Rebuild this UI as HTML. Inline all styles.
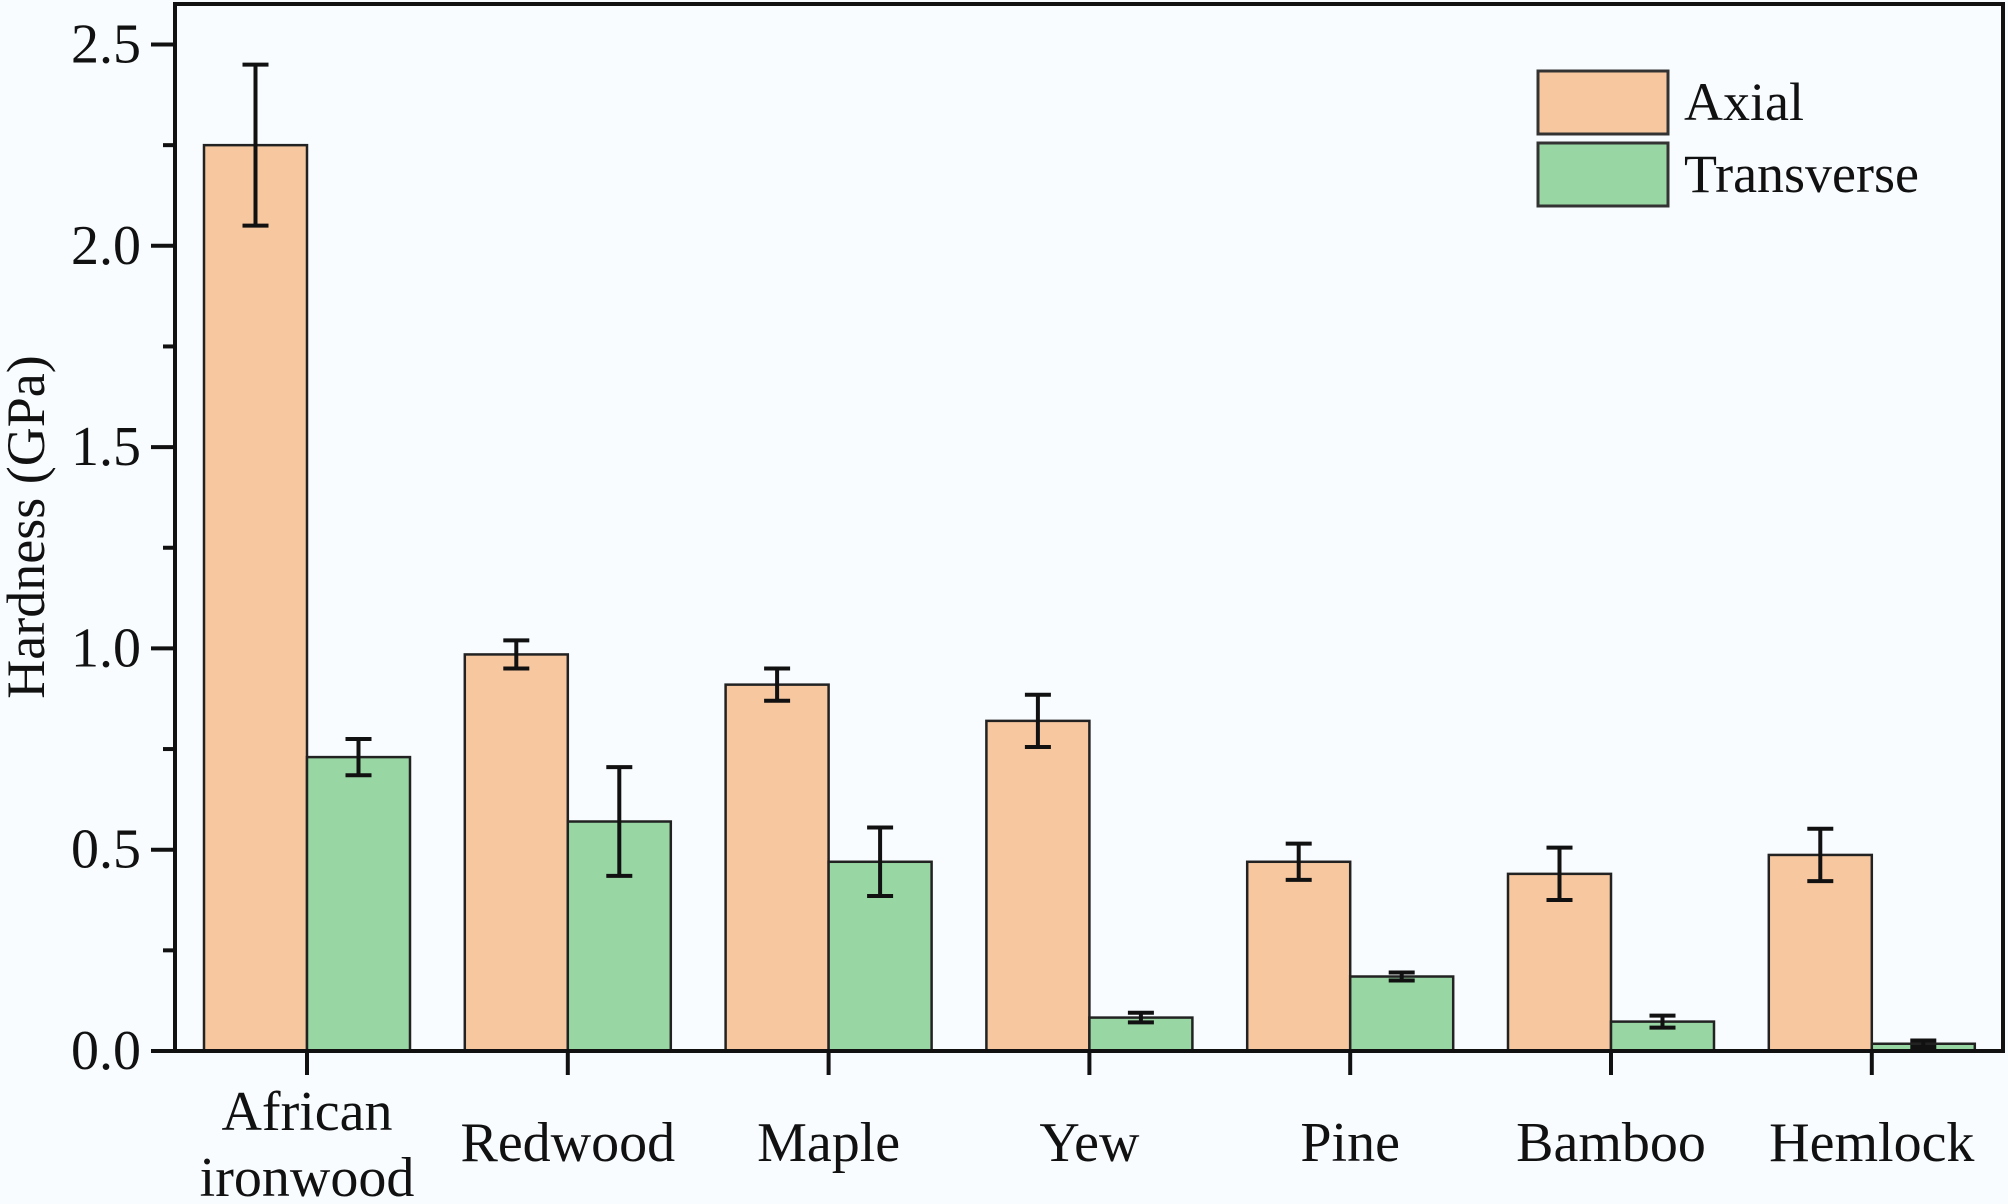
<!DOCTYPE html>
<html><head><meta charset="utf-8"><style>
html,body{margin:0;padding:0;background:#f8fcff;}
svg{display:block;}
text{font-family:"Liberation Serif","Times New Roman",serif;}
</style></head><body>
<svg width="2008" height="1204" viewBox="0 0 2008 1204" font-family="Liberation Serif, serif">
<rect x="0" y="0" width="2008" height="1204" fill="#f8fcff"/>
<g id="marks"></g>
<g id="axes"></g>
</svg>
<script>
const categories=["African|ironwood","Redwood","Maple","Yew","Pine","Bamboo","Hemlock"];
const axialValues=[2.25,0.985,0.91,0.82,0.47,0.44,0.487];
const axialErrors=[0.2,0.035,0.04,0.065,0.045,0.065,0.065];
const transValues=[0.73,0.57,0.47,0.083,0.185,0.073,0.018];
const transErrors=[0.045,0.135,0.085,0.012,0.01,0.015,0.008];
const yTicks=["0.0","0.5","1.0","1.5","2.0","2.5"];

const NS="http://www.w3.org/2000/svg";
const FONT='"Liberation Serif", serif';
const L=175,R=2003,T=4,B=1051;
const y0=1051,yPer=402.6;
function ys(v){return y0-v*yPer;}
function xc(i){return 307+i*260.8;}
const BW=103;
function mk(tag,attrs,parent){const e=document.createElementNS(NS,tag);for(const k in attrs)e.setAttribute(k,attrs[k]);if(tag==='text')e.setAttribute('font-family',FONT);parent.appendChild(e);return e;}
const marks=document.getElementById('marks'),axes=document.getElementById('axes');

categories.forEach((c,i)=>{
  const cx=xc(i);
  const ya=ys(axialValues[i]);
  const a=mk('rect',{x:cx-BW,y:ya,width:BW,height:y0-ya,fill:'#f7c8a0',stroke:'#222',"stroke-width":2.5},marks);
  
  
  const yt=ys(transValues[i]);
  const t=mk('rect',{x:cx,y:yt,width:BW,height:y0-yt,fill:'#98d7a4',stroke:'#222',"stroke-width":2.5},marks);
  
  
  [[cx-BW/2,axialValues[i],axialErrors[i],'axial'],[cx+BW/2,transValues[i],transErrors[i],'transverse']].forEach(([x,v,e,n])=>{
    const g=mk('g',{stroke:'#111',"stroke-width":4},marks);
    
    
    mk('line',{x1:x,x2:x,y1:ys(v+e),y2:ys(v-e)},g);
    mk('line',{x1:x-13,x2:x+13,y1:ys(v+e),y2:ys(v+e)},g);
    mk('line',{x1:x-13,x2:x+13,y1:ys(v-e),y2:ys(v-e)},g);
  });
  const tk=mk('line',{x1:cx,x2:cx,y1:B,y2:B+24,stroke:'#111',"stroke-width":4},axes);
  
  
  const parts=c.split('|');
  const tx=mk('text',{x:cx,"text-anchor":"middle","font-size":56,fill:'#111'},axes);
  
  
  if(parts.length===2){
    mk('tspan',{x:cx,y:1130},tx).textContent=parts[0];
    mk('tspan',{x:cx,y:1196},tx).textContent=parts[1];
  }else{
    tx.setAttribute('y',1161);tx.textContent=parts[0];
  }
});

const fr=mk('rect',{x:L,y:T,width:R-L,height:B-T,fill:'none',stroke:'#111',"stroke-width":4},axes);


yTicks.forEach((lab,i)=>{
  const v=parseFloat(lab),y=ys(v);
  const l=mk('line',{x1:L-24,x2:L,y1:y,y2:y,stroke:'#111',"stroke-width":4},axes);
  
  
  const tx=mk('text',{x:141,y:y+18,"text-anchor":"end","font-size":56,fill:'#111'},axes);
  
  
  tx.textContent=lab;
  if(i<yTicks.length-1){
    const ym=ys(v+0.25);
    const m=mk('line',{x1:L-12,x2:L,y1:ym,y2:ym,stroke:'#111',"stroke-width":4},axes);
    
    
  }
});
const yt=mk('text',{x:0,y:0,transform:'translate(44,527) rotate(-90)',"text-anchor":"middle","font-size":54,fill:'#111'},axes);


yt.textContent='Hardness (GPa)';

const lg=mk('g',{},axes);


[['Axial','#f7c8a0',71],['Transverse','#98d7a4',143]].forEach(([n,c,y])=>{
  const g=mk('g',{},lg);
  
  
  mk('rect',{x:1538,y:y,width:130,height:63,fill:c,stroke:'#333',"stroke-width":3},g);
  const t=mk('text',{x:1684,y:y+49,"font-size":54,fill:'#111'},g);
  t.textContent=n;
});
</script>
</body></html>
